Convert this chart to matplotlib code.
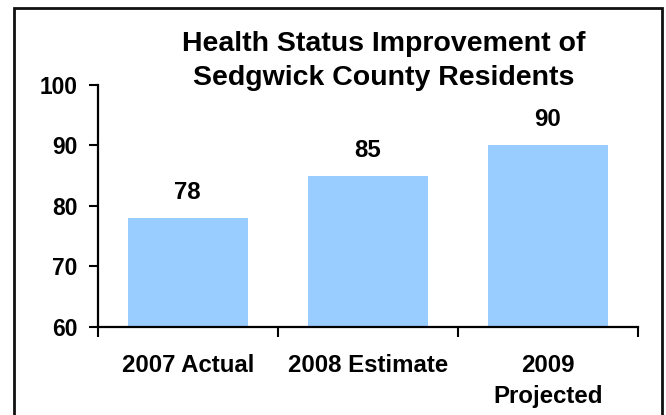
import matplotlib
matplotlib.use('Agg')
import matplotlib.pyplot as plt
from matplotlib.patches import Rectangle

plt.rcParams['font.family'] = ['Liberation Sans', 'DejaVu Sans']
plt.rcParams['font.weight'] = 'bold'

# Chart data
categories = ['2007 Actual', '2008 Estimate', '2009\nProjected']
values = [78, 85, 90]
y_ticks = [60, 70, 80, 90, 100]
title = 'Health Status Improvement of\nSedgwick County Residents'

fig = plt.figure(figsize=(6.66, 4.15), dpi=100)
ax = fig.add_axes([0.1467, 0.2128, 0.9575 - 0.1467, 0.7952 - 0.2128])

x = list(range(len(categories)))
ax.bar(x, values, width=0.667, color='#99CCFF', bottom=0)

# Value labels above bars
for xi, v in zip(x, values):
    ax.annotate(str(v), (xi, v), xytext=(0, 13.7), textcoords='offset points',
                ha='center', va='baseline', fontsize=17.3, fontweight='bold')

ax.set_xlim(-0.5, len(categories) - 0.5)
ax.set_ylim(60, 100)
ax.set_yticks(y_ticks)
ax.set_yticklabels([str(t) for t in y_ticks], fontsize=16.4, fontweight='bold')
ax.set_xticks(x)
ax.set_xticklabels(categories, fontsize=17.3, fontweight='bold', linespacing=1.4)
ax.set_xticks([i - 0.5 for i in range(len(categories) + 1)], minor=True)

ax.tick_params(axis='x', which='major', length=0, pad=20)
ax.tick_params(axis='x', which='minor', length=7, width=1.5, direction='out')
ax.tick_params(axis='y', length=6.5, width=1.5, direction='out', pad=8)

for side in ['top', 'right']:
    ax.spines[side].set_visible(False)
for side in ['left', 'bottom']:
    ax.spines[side].set_linewidth(1.6)

fig.text(383.5 / 666, 1 - 31 / 415, title, ha='center', va='top',
         fontsize=20.5, fontweight='bold', linespacing=1.4)

# Chart area border
border = Rectangle((14.5 / 666, -0.1), (662 - 14.5) / 666, 1.1 - 8.5 / 415,
                   transform=fig.transFigure, fill=False, edgecolor='#111111',
                   linewidth=2, clip_on=False)
fig.patches.append(border)

fig.savefig('out.png', dpi=100)
